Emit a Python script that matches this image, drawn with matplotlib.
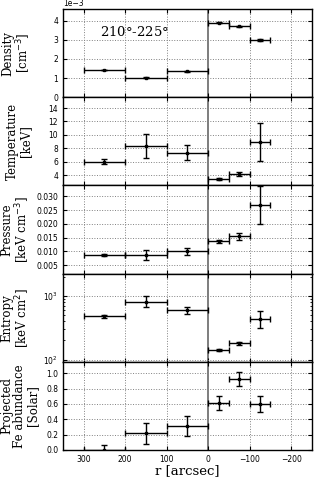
import matplotlib
matplotlib.use("Agg")
import matplotlib.pyplot as plt
import numpy as np

# bin centres and half widths (arcsec)
r = [250, 150, 50, -25, -75, -125]
r_err = [50, 50, 50, 25, 25, 25]

density = [1.42e-3, 1.03e-3, 1.35e-3, 3.89e-3, 3.70e-3, 2.98e-3]
density_err = [0.02e-3, 0.02e-3, 0.02e-3, 0.03e-3, 0.04e-3, 0.05e-3]

temperature = [6.05, 8.4, 7.35, 3.5, 4.2, 9.0]
temperature_err = [0.4, 1.8, 1.1, 0.15, 0.3, 2.85]

pressure = [0.0087, 0.0087, 0.0100, 0.0137, 0.0155, 0.0268]
pressure_err = [0.0005, 0.0018, 0.0014, 0.0006, 0.0012, 0.007]

entropy = [479, 802, 606, 142, 180, 430]
entropy_lo = [25, 135, 82, 6, 10, 112]
entropy_hi = [25, 198, 79, 6, 10, 155]

abundance = [0.0, 0.217, 0.31, 0.61, 0.93, 0.60]
abundance_err = [0.07, 0.135, 0.13, 0.09, 0.09, 0.1]

ylabels = ["Density\n[cm$^{-3}$]", "Temperature\n[keV]",
           "Pressure\n[keV cm$^{-3}$]", "Entropy\n[keV cm$^2$]",
           "Projected\nFe abundance\n[Solar]"]
label_x = [-0.12, -0.125, -0.125, -0.125, -0.095]

fig, axes = plt.subplots(5, 1, figsize=(3.19, 4.78), dpi=100, sharex=True)
fig.subplots_adjust(left=0.1975, right=0.978, top=0.981, bottom=0.0586, hspace=0)

series = [
    (density, density_err),
    (temperature, temperature_err),
    (pressure, pressure_err),
    (entropy, [entropy_lo, entropy_hi]),
    (abundance, abundance_err),
]

for ax, (vals, errs), lab, lx in zip(axes, series, ylabels, label_x):
    ax.errorbar(r, vals, xerr=r_err, yerr=errs, fmt="none", ecolor="black",
                elinewidth=1, capsize=2, capthick=1)
    ax.plot(r, vals, ls="none", marker="s", ms=1.5, color="black")
    ax.axvline(0, color="0.45", lw=1.3, zorder=0)
    ax.grid(True, ls=":", color="0.5", lw=0.7)
    ax.set_ylabel(lab, family="DejaVu Serif", fontsize=8.5, linespacing=1.0)
    ax.yaxis.set_label_coords(lx, 0.5)
    ax.tick_params(direction="in", labelsize=5.5, top=True, right=True, length=3)
    ax.tick_params(which="minor", direction="in", top=True, right=True, length=1.5)
    for s in ax.spines.values():
        s.set_linewidth(1.0)

# density in units of 1e-3, offset label drawn by hand so it fits the top margin
axes[0].set_ylim(0, 4.6e-3)
axes[0].set_yticks([0, 1e-3, 2e-3, 3e-3, 4e-3])
axes[0].set_yticklabels(["0", "1", "2", "3", "4"])
axes[0].text(0.0, 1.008, "1e\u22123", transform=axes[0].transAxes,
             fontsize=5.5, ha="left", va="bottom")
axes[0].text(0.15, 0.7, "210$\\degree$-225$\\degree$", transform=axes[0].transAxes,
             family="DejaVu Serif", fontsize=9.5)

axes[1].set_ylim(2.5, 15.6)
axes[1].set_yticks([4, 6, 8, 10, 12, 14])

axes[2].set_ylim(0.0019, 0.034)
axes[2].set_yticks([0.005, 0.010, 0.015, 0.020, 0.025, 0.030])
axes[2].set_yticklabels(["0.005", "0.010", "0.015", "0.020", "0.025", "0.030"])

axes[3].set_yscale("log")
axes[3].set_ylim(92, 2280)

axes[4].set_ylim(0, 1.15)
axes[4].set_yticks([0.0, 0.2, 0.4, 0.6, 0.8, 1.0])

axes[4].set_xlim(350, -250)
axes[4].set_xticks([300, 200, 100, 0, -100, -200])
axes[4].set_xlabel("r [arcsec]", family="DejaVu Serif", fontsize=9.5, labelpad=0)

fig.savefig("out.png", dpi=100)
